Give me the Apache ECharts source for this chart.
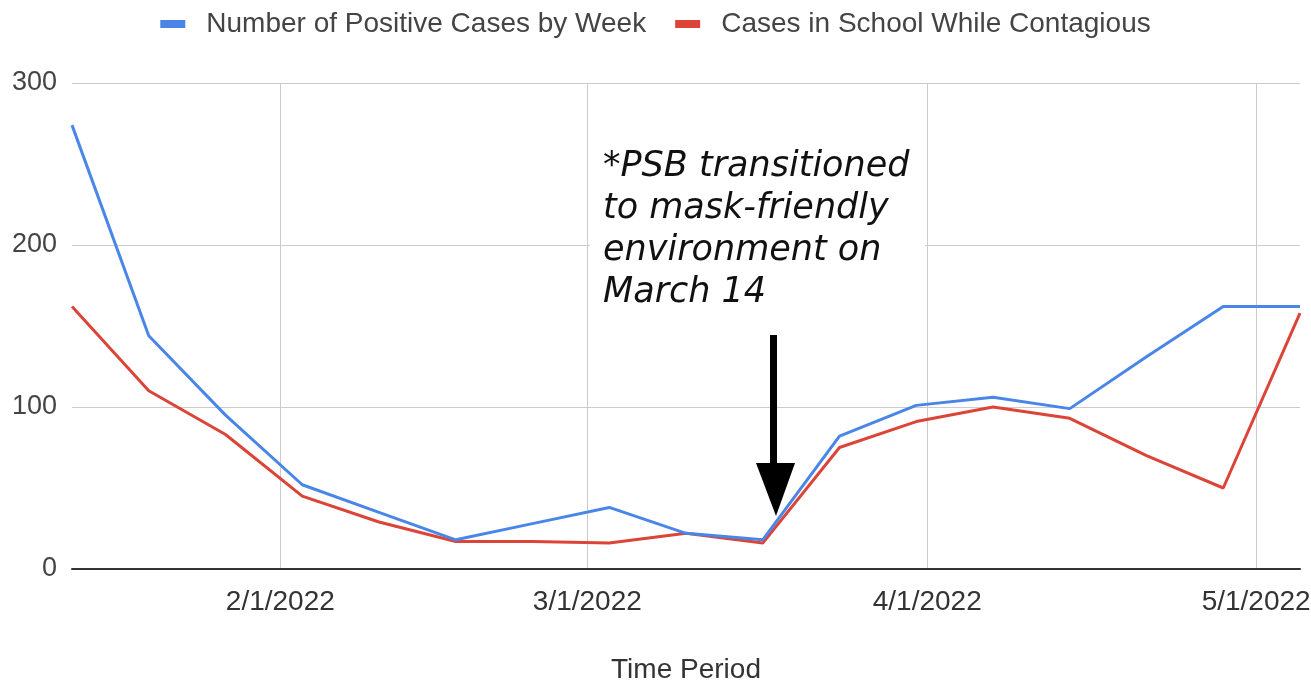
<!DOCTYPE html>
<html>
<head>
<meta charset="utf-8">
<script src="https://cdn.jsdelivr.net/npm/echarts@6/dist/echarts.min.js"></script>
<style>
  html, body { margin: 0; padding: 0; background: #fff; }
  #chart { width: 1311px; height: 683px; }
</style>
</head>
<body>
<div id="chart"></div>
<script>
// weekly reporting dates (Thursdays)
const weeks = [
  '2022-01-13', '2022-01-20', '2022-01-27', '2022-02-03', '2022-02-10',
  '2022-02-17', '2022-02-24', '2022-03-03', '2022-03-10', '2022-03-17',
  '2022-03-24', '2022-03-31', '2022-04-07', '2022-04-14', '2022-04-21',
  '2022-04-28', '2022-05-05'
];
const positiveCases = [274, 144, 95, 52, 35, 18, 28, 38, 22, 18, 82, 101, 106, 99, 131, 162, 162];
const inSchoolContagious = [162, 110, 83, 45, 29, 17, 17, 16, 22, 16, 75, 91, 100, 93, 70, 50, 158];
const monthTicks = ['2022-02-01', '2022-03-01', '2022-04-01', '2022-05-01'];
const yTicks = [0, 100, 200, 300];
const note = '*PSB transitioned\nto mask-friendly\nenvironment on\nMarch 14';

const toTime = d => +new Date(d + 'T00:00:00');
const tickTimes = monthTicks.map(toTime);
const pairs = vals => weeks.map((d, i) => [toTime(d), vals[i]]);

const chart = echarts.init(document.getElementById('chart'));
const txt = '#444';

chart.setOption({
  animation: false,
  textStyle: { fontFamily: 'Liberation Sans' },
  legend: {
    top: 5,
    left: 'center',
    icon: 'rect',
    itemWidth: 25,
    itemHeight: 8,
    itemGap: 29,
    textStyle: {
      fontSize: 28,
      color: txt,
      fontFamily: 'Liberation Sans',
      padding: [0, 0, 0, 16]
    }
  },
  grid: { left: 72, right: 11, top: 83, bottom: 114, outerBoundsMode: 'none' },
  xAxis: {
    type: 'value',
    min: toTime(weeks[0]),
    max: toTime(weeks[weeks.length - 1]),
    name: 'Time Period',
    nameLocation: 'middle',
    nameGap: 87,
    nameTextStyle: { fontSize: 28, color: '#333' },
    axisLine: { lineStyle: { color: '#333', width: 2 } },
    axisTick: { show: false, customValues: tickTimes },
    axisLabel: {
      customValues: tickTimes,
      fontSize: 28,
      color: '#333',
      margin: 19,
      formatter: v => {
        const d = new Date(v);
        return (d.getMonth() + 1) + '/' + d.getDate() + '/' + d.getFullYear();
      }
    },
    splitLine: { show: true, lineStyle: { color: '#ccc', width: 1 } }
  },
  yAxis: {
    type: 'value',
    min: yTicks[0],
    max: yTicks[yTicks.length - 1],
    interval: 100,
    axisLine: { show: false },
    axisTick: { show: false },
    axisLabel: { fontSize: 27, color: txt, margin: 15 },
    splitLine: { lineStyle: { color: '#ccc', width: 1 } }
  },
  series: [
    {
      name: 'Number of Positive Cases by Week',
      type: 'line',
      data: pairs(positiveCases),
      showSymbol: false,
      color: '#4a86e8',
      lineStyle: { width: 3 },
      z: 3
    },
    {
      name: 'Cases in School While Contagious',
      type: 'line',
      data: pairs(inSchoolContagious),
      showSymbol: false,
      color: '#db4437',
      lineStyle: { width: 3 },
      z: 2
    }
  ],
  graphic: [
    {
      type: 'rect',
      z: 10,
      shape: { x: 590, y: 140, width: 335, height: 180 },
      style: { fill: '#fff' }
    },
    {
      type: 'text',
      z: 11,
      x: 603,
      y: 146,
      style: {
        text: note,
        font: 'italic 35px "DejaVu Sans"',
        lineHeight: 42,
        fill: '#111',
        verticalAlign: 'top'
      }
    },
    {
      type: 'rect',
      z: 11,
      shape: { x: 770, y: 335, width: 7, height: 132 },
      style: { fill: '#000' }
    },
    {
      type: 'polygon',
      z: 11,
      shape: { points: [[756, 463], [795, 463], [776, 516]] },
      style: { fill: '#000' }
    }
  ]
});
</script>
</body>
</html>
